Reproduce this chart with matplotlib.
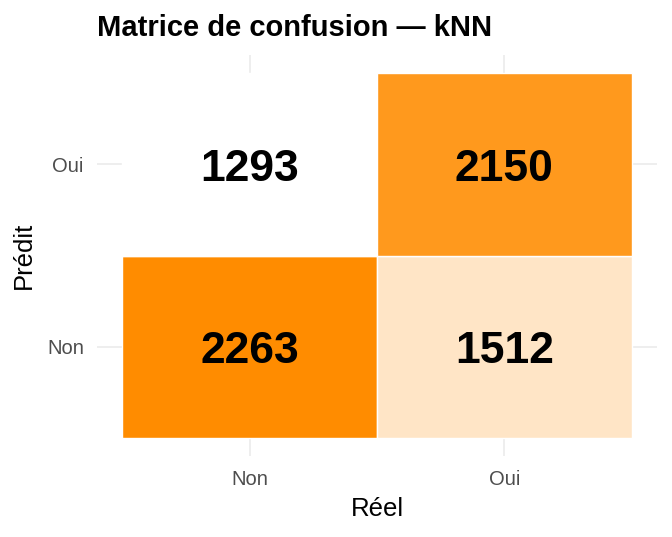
import matplotlib
matplotlib.use("Agg")
import matplotlib.pyplot as plt
import numpy as np
from matplotlib.colors import LinearSegmentedColormap

plt.rcParams['font.family'] = ['Liberation Sans', 'DejaVu Sans']

reel = ["Non", "Oui"]
predit = ["Non", "Oui"]
# counts[predit][reel]
counts = [[2263, 1512],
          [1293, 2150]]

cmap = LinearSegmentedColormap.from_list("wo", ["#FFFFFF", "#FF8C00"])
vals = np.array(counts)
norm = plt.Normalize(vals.min(), vals.max())

fig = plt.figure(figsize=(6.72, 5.37), dpi=100)
ax = fig.add_axes([0.1443, 0.1508, 0.8334, 0.7468])

for i, p in enumerate(predit):
    for j, r in enumerate(reel):
        v = counts[i][j]
        ax.add_patch(plt.Rectangle((j + 0.5, i + 0.5), 1, 1,
                                   facecolor=cmap(norm(v)), edgecolor="white",
                                   linewidth=1, zorder=2))
        # small downward nudge so the digits sit centred like in ggplot
        ax.text(j + 1, i + 1 - 0.027, str(v), ha="center", va="center",
                fontsize=32, fontweight="bold", color="black", zorder=3)

ax.set_xlim(0.4, 2.6)
ax.set_ylim(0.4, 2.6)
ax.set_xticks([1, 2])
ax.set_xticklabels(reel)
ax.set_yticks([1, 2])
ax.set_yticklabels(predit)
ax.grid(True, color="#EBEBEB", linewidth=1.2, zorder=0)
ax.set_axisbelow(True)
for s in ax.spines.values():
    s.set_visible(False)
ax.tick_params(length=0, labelsize=14.5, labelcolor="#4D4D4D")
ax.tick_params(axis="y", pad=9.5)
ax.tick_params(axis="x", pad=10)
ax.set_xlabel("Réel", fontsize=18.5, labelpad=6)
ax.set_ylabel("Prédit", fontsize=18.5, labelpad=8)
fig.text(0.1443, 0.933, "Matrice de confusion — kNN", fontsize=21,
         fontweight="bold", ha="left", va="baseline")

fig.savefig("out.png", dpi=100)
